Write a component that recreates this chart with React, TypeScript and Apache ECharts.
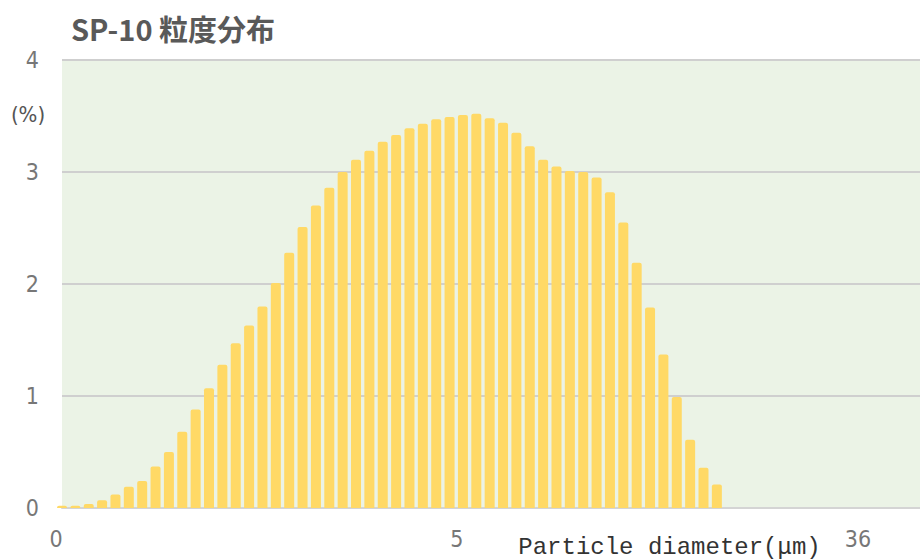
import React, { useEffect, useRef } from "react";
import * as echarts from "echarts";

const titleText = "SP-10 粒度分布";
const xAxisName = "Particle diameter(μm)";
const yAxisName = "(%)";
const xTickValues = [0, 30, 60];
const xTickLabels = ["0", "5", "36"];
const yTicks = [0, 1, 2, 3, 4];
const binValues = [
  0.02, 0.02, 0.036, 0.07, 0.12, 0.19, 0.24, 0.37, 0.5, 0.68,
  0.88, 1.07, 1.28, 1.47, 1.63, 1.8, 2.01, 2.28, 2.51, 2.7,
  2.86, 3.0, 3.11, 3.19, 3.27, 3.33, 3.39, 3.43, 3.47, 3.49,
  3.51, 3.52, 3.48, 3.44, 3.35, 3.23, 3.11, 3.05, 3.01, 3.0,
  2.95, 2.82, 2.55, 2.19, 1.79, 1.37, 0.99, 0.61, 0.36, 0.21,
];

export default function App() {
  const ref = useRef<HTMLDivElement>(null);
  useEffect(() => {
    if (!ref.current) return;
    const chart = echarts.init(ref.current, undefined, { renderer: "svg" });
    const narrow = "'Liberation Sans Narrow', 'DejaVu Sans Condensed', 'Liberation Sans', sans-serif";
    chart.setOption({
      animation: false,
      backgroundColor: "#ffffff",
      title: {
        text: titleText,
        left: 66,
        top: 8,
        textStyle: {
          fontFamily: "'Noto Sans CJK JP', sans-serif",
          fontWeight: "bold",
          fontSize: 29,
          color: "#595959",
        },
      },
      grid: {
        left: 62,
        right: 0,
        top: 60,
        bottom: 51,
        show: true,
        backgroundColor: "#EBF3E6",
        borderWidth: 0,
        containLabel: false,
        outerBoundsMode: "none",
      },
      xAxis: {
        type: "value",
        min: 0,
        max: 64.2,
        interval: 30,
        name: xAxisName,
        nameLocation: "middle",
        nameGap: 27,
        nameMoveOverlap: false,
        nameTextStyle: {
          fontFamily: "'Liberation Mono', 'DejaVu Sans Mono', monospace",
          fontSize: 24,
          color: "#333333",
          padding: [0, 0, 0, 357],
        },
        axisLine: { show: true, lineStyle: { color: "#d4d4d4", width: 2 } },
        axisTick: { show: false },
        splitLine: { show: false },
        axisLabel: {
          showMaxLabel: false,
          margin: 19,
          fontFamily: narrow,
          fontSize: 23,
          color: "#777777",
          padding: [0, 12, 0, 0],
          formatter: (v: number) => {
            const i = xTickValues.indexOf(Math.round(v));
            return i >= 0 ? xTickLabels[i] : "";
          },
        },
      },
      yAxis: {
        type: "value",
        min: yTicks[0],
        max: yTicks[yTicks.length - 1],
        interval: 1,
        name: yAxisName,
        nameLocation: "end",
        nameGap: -65,
        nameMoveOverlap: false,
        nameTextStyle: {
          fontFamily: narrow,
          fontSize: 22,
          color: "#555555",
          padding: [0, 68, 0, 0],
        },
        axisLine: { show: false },
        axisTick: { show: false },
        axisLabel: {
          margin: 23,
          fontFamily: narrow,
          fontSize: 23,
          color: "#777777",
        },
        splitLine: { show: true, lineStyle: { color: "#cfcfcf", width: 2 } },
      },
      series: [
        {
          type: "bar",
          data: binValues.map((v, i) => [i, v]),
          barWidth: 10,
          clip: true,
          itemStyle: { color: "#FFD966", borderRadius: [2, 2, 0, 0] },
        },
      ],
    });
    return () => chart.dispose();
  }, []);
  return (
    <div
      ref={ref}
      style={{ position: "fixed", left: 0, top: 0, width: 920, height: 559 }}
    />
  );
}
